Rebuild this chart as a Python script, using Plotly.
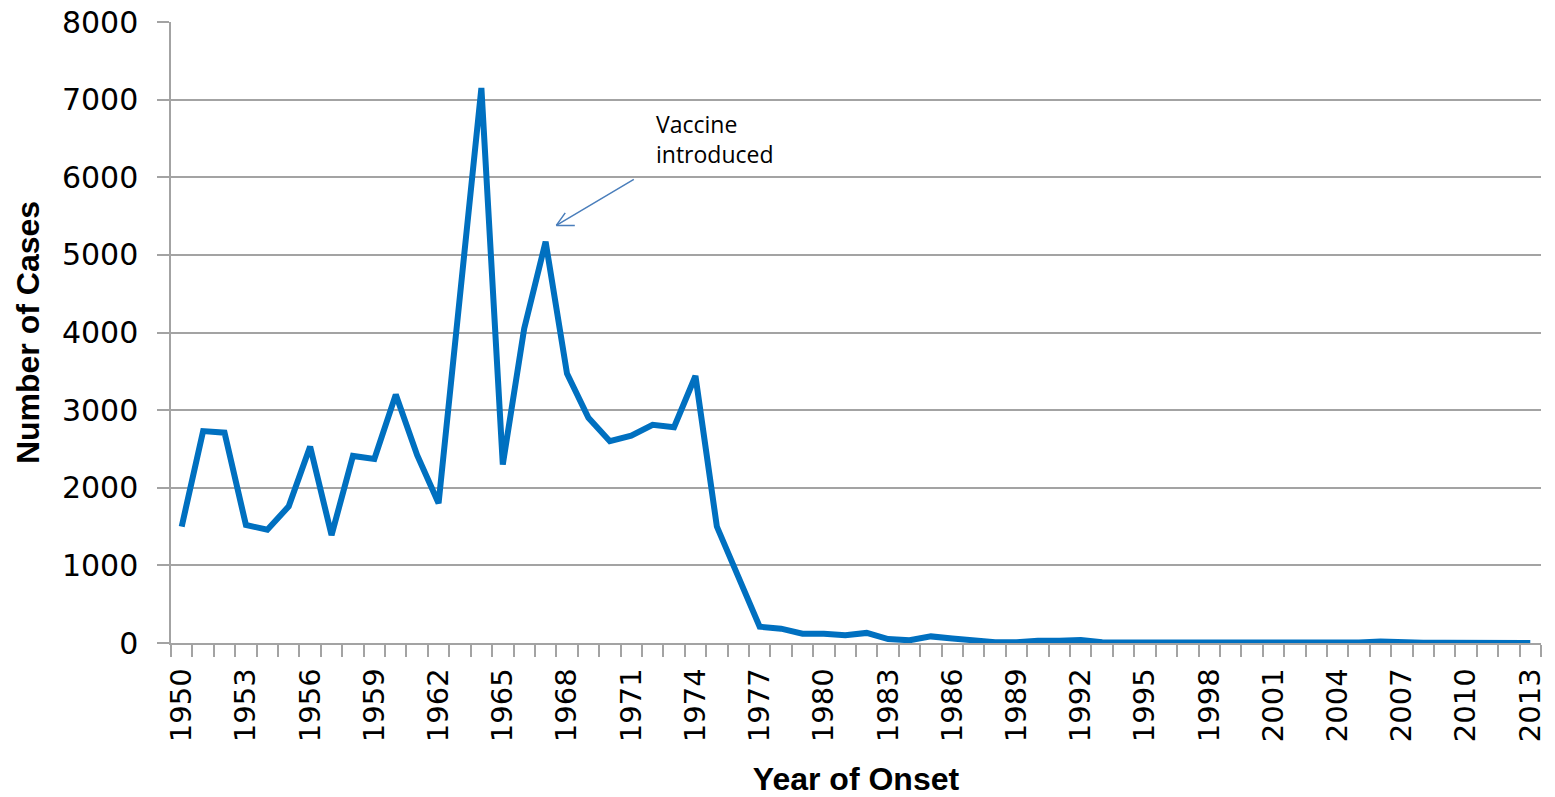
import plotly.graph_objects as go

years = list(range(1950, 2014))
cases = [1500, 2730, 2710, 1520, 1460, 1760, 2530, 1390, 2410, 2370,
         3200, 2420, 1800, 4450, 7150, 2300, 4050, 5170, 3470, 2900,
         2600, 2670, 2810, 2780, 3440, 1500, 830, 210, 185, 120,
         120, 100, 130, 50, 35, 85, 58, 30, 10, 10,
         30, 30, 38, 10, 10, 0, 5, 3, 3, 2,
         2, 2, 1, 1, 2, 5, 20, 5, 3, 2,
         3, 2, 2, 1]
tick_years = years[::3]
tick_text = [str(y) for y in tick_years]
y_ticks = list(range(0, 8001, 1000))

annot_text = "Vaccine<br>introduced"
x_title = "Year of Onset"
y_title = "Number of Cases"

GRID = "#a3a3a3"
BLUE = "#0070C0"

fig = go.Figure()
fig.add_trace(go.Scatter(x=years, y=cases, mode="lines",
                         line=dict(color=BLUE, width=6), showlegend=False,
                         hoverinfo="x+y"))

fig.update_layout(
    width=1555, height=797,
    margin=dict(l=171, r=14, t=22, b=154, autoexpand=False),
    paper_bgcolor="white", plot_bgcolor="white",
    showlegend=False,
)

fig.update_xaxes(
    range=[1949.5, 2013.5], automargin=False,
    tickvals=tick_years, ticktext=tick_text,
    tickangle=-90,
    tickfont=dict(family="DejaVu Sans", size=29, color="#000000"),
    ticks="outside", ticklen=12, tickcolor="rgba(0,0,0,0)",
    minor=dict(tick0=1949.5, dtick=1, ticks="outside", ticklen=12,
               tickcolor=GRID, tickwidth=1.5, showgrid=False),
    showline=True, linecolor=GRID, linewidth=1.5,
    showgrid=False, zeroline=False,
    title=dict(text=x_title, standoff=27,
               font=dict(family="Liberation Sans", size=32, color="#000000", weight="bold")),
)

fig.update_yaxes(
    range=[0, 8000], automargin=False,
    tickvals=y_ticks,
    tickfont=dict(family="DejaVu Sans", size=30, color="#000000"),
    ticks="outside", ticklen=12, tickcolor=GRID, tickwidth=1.5,
    showline=True, linecolor=GRID, linewidth=1.5,
    showgrid=True, gridcolor=GRID, gridwidth=1.5,
    zeroline=False,
    ticklabelstandoff=13,
    title=dict(text=y_title, standoff=13,
               font=dict(family="Liberation Sans", size=32, color="#000000", weight="bold")),
)

# annotation text
fig.add_annotation(xref="paper", yref="paper", x=0.3525, y=0.865,
                   xanchor="left", yanchor="top", align="left",
                   text=annot_text, showarrow=False,
                   font=dict(family="Open Sans", size=23, color="#000000"))

# arrow (shaft + open head)
tip_x, tip_y = 1967.5, 5380
arrow_color = "#4a7ebb"
for ax, ay in [(79, -47), (10, -14), (20, 0)]:
    fig.add_annotation(x=tip_x, y=tip_y, xref="x", yref="y", text="",
                       showarrow=True, arrowhead=0, arrowwidth=1.5,
                       arrowcolor=arrow_color, ax=ax, ay=ay,
                       axref="pixel", ayref="pixel", standoff=0, startstandoff=0)

fig.write_html("out.html", config={"displayModeBar": False},
               post_script="document.body.style.margin='0';document.body.style.overflow='hidden';")
